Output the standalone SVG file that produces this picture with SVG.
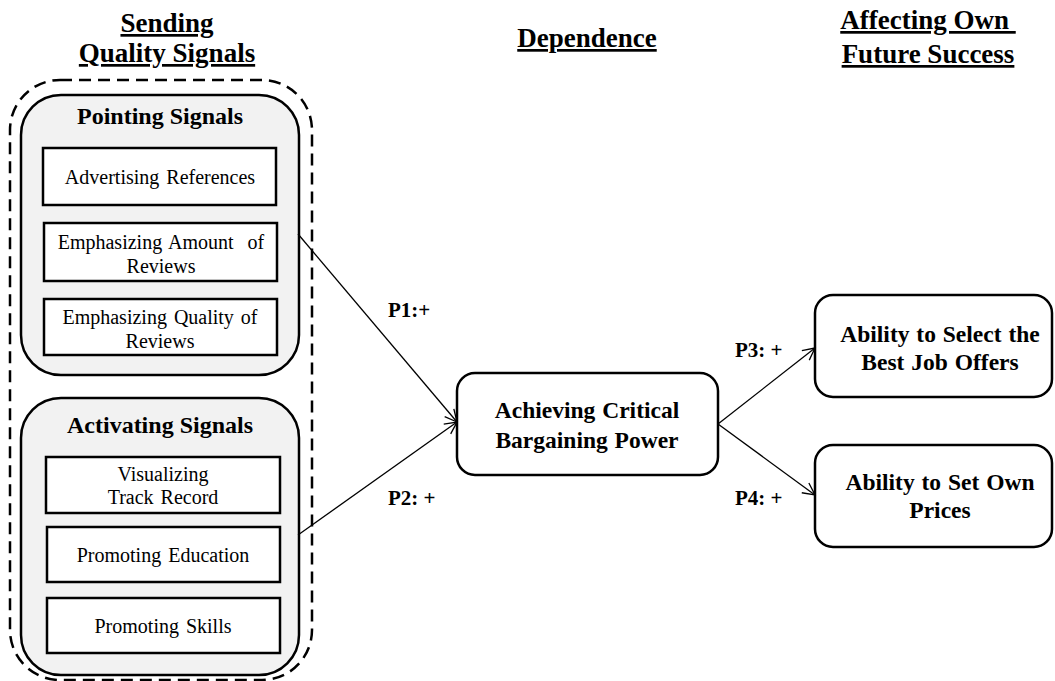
<svg xmlns="http://www.w3.org/2000/svg" width="1055" height="681" viewBox="0 0 1055 681">
<style>
.hdr{font-family:"Liberation Serif","Times New Roman",serif;font-weight:bold;font-size:27px;text-anchor:middle;text-decoration:underline;fill:#000}
.grp{fill:#f2f2f2;stroke:#000;stroke-width:2.5}
.item{fill:#fff;stroke:#000;stroke-width:2.5}
.node{fill:#fff;stroke:#000;stroke-width:2.5}
.t{font-family:"Liberation Serif","Times New Roman",serif;font-size:20px;text-anchor:middle;fill:#000;word-spacing:2px}
.tg{font-family:"Liberation Serif","Times New Roman",serif;font-weight:bold;font-size:24px;text-anchor:middle;fill:#000}
.tb{font-family:"Liberation Serif","Times New Roman",serif;font-weight:bold;font-size:23.5px;text-anchor:middle;fill:#000;word-spacing:1px}
.lbl{font-family:"Liberation Serif","Times New Roman",serif;font-weight:bold;font-size:21px;fill:#000}
.edge{stroke:#000;stroke-width:1.3;fill:none}
</style>
<defs>
<marker id="arr" markerUnits="userSpaceOnUse" markerWidth="16" markerHeight="16" refX="13" refY="7" orient="auto" viewBox="0 0 16 14">
<path d="M1,1 L13,7 L1,13" fill="none" stroke="#000" stroke-width="1.3"/>
</marker>
</defs>

<g id="headers">
<text class="hdr" x="167" y="32">Sending</text>
<text class="hdr" x="167" y="62">Quality Signals</text>
<text class="hdr" x="587" y="47">Dependence</text>
<text class="hdr" x="928" y="29" xml:space="preserve">Affecting Own </text>
<text class="hdr" x="928" y="63">Future Success</text>
</g>

<g id="sending-quality-signals">
<rect x="10" y="80" width="302" height="600" rx="50" ry="50" fill="none" stroke="#000" stroke-width="2.5" stroke-dasharray="12,7"/>
</g>

<g id="pointing-signals">
<rect class="grp" x="21" y="95" width="278" height="280" rx="40" ry="40"/>
<text class="tg" x="160" y="124">Pointing Signals</text>
</g>
<g id="advertising-references">
<rect class="item" x="43" y="148" width="233" height="57"/>
<text class="t" x="160" y="184">Advertising References</text>
</g>
<g id="emphasizing-amount">
<rect class="item" x="44" y="223" width="233" height="58"/>
<text class="t" x="161" y="249" xml:space="preserve">Emphasizing Amount  of</text>
<text class="t" x="161" y="273">Reviews</text>
</g>
<g id="emphasizing-quality">
<rect class="item" x="44" y="299" width="233" height="56"/>
<text class="t" x="160" y="324">Emphasizing Quality of</text>
<text class="t" x="160" y="348">Reviews</text>
</g>

<g id="activating-signals">
<rect class="grp" x="21" y="398" width="278" height="277" rx="40" ry="40"/>
<text class="tg" x="160" y="433">Activating Signals</text>
</g>
<g id="visualizing-track-record">
<rect class="item" x="46" y="457" width="234" height="56"/>
<text class="t" x="163" y="481">Visualizing</text>
<text class="t" x="163" y="504">Track Record</text>
</g>
<g id="promoting-education">
<rect class="item" x="47" y="527" width="233" height="55"/>
<text class="t" x="163" y="562">Promoting Education</text>
</g>
<g id="promoting-skills">
<rect class="item" x="47" y="598" width="233" height="55"/>
<text class="t" x="163" y="633">Promoting Skills</text>
</g>

<g id="bargaining-power">
<rect class="node" x="457" y="373" width="261" height="102" rx="18" ry="18"/>
<text class="tb" x="587" y="418">Achieving Critical</text>
<text class="tb" x="587" y="448">Bargaining Power</text>
</g>

<g id="select-best-job-offers">
<rect class="node" x="815" y="295" width="237" height="102" rx="18" ry="18"/>
<text class="tb" x="940" y="342">Ability to Select the</text>
<text class="tb" x="940" y="370">Best Job Offers</text>
</g>

<g id="set-own-prices">
<rect class="node" x="815" y="445" width="237" height="102" rx="18" ry="18"/>
<text class="tb" x="940" y="490">Ability to Set Own</text>
<text class="tb" x="940" y="518">Prices</text>
</g>

<g id="connectors">
<line class="edge" x1="298" y1="234" x2="457" y2="422" marker-end="url(#arr)"/>
<line class="edge" x1="298" y1="535" x2="457" y2="422" marker-end="url(#arr)"/>
<line class="edge" x1="718" y1="424" x2="815" y2="348" marker-end="url(#arr)"/>
<line class="edge" x1="718" y1="424" x2="815" y2="495" marker-end="url(#arr)"/>
<text class="lbl" x="388" y="317">P1:+</text>
<text class="lbl" x="388" y="505">P2: +</text>
<text class="lbl" x="735" y="357">P3: +</text>
<text class="lbl" x="735" y="505">P4: +</text>
</g>
</svg>
